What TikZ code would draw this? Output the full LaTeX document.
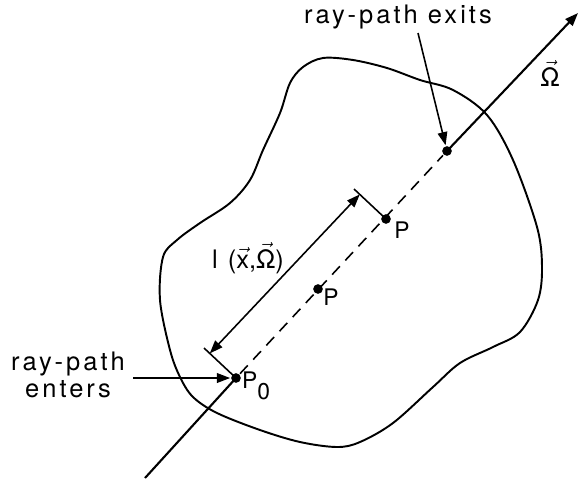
\documentclass[tikz,border=0pt]{standalone}
\usepackage{amsmath}
\usepackage{fontspec}
\setmainfont{TeX Gyre Heros}[LetterSpace=12]
\usetikzlibrary{arrows.meta,calc}

\newcommand{\vecarr}[1]{$\vec{\text{#1}}$}

\begin{document}
\begin{tikzpicture}[x=0.02cm, y=-0.02cm, line width=1.2pt,
  dot/.style={circle, fill, inner sep=0pt, minimum size=5.5pt},
  txt/.style={font=\fontsize{14.5}{15.5}\selectfont, inner sep=1pt},
  ptlabel/.style={font=\fontsize{13}{15}\selectfont, inner sep=1pt},
  note/.style={line width=0.9pt},
  tip/.style={-{Triangle[length=7.5pt,width=5.5pt]}},
  dimtip/.style={{Triangle[length=7.5pt,width=5.5pt]}-{Triangle[length=7.5pt,width=5.5pt]}}]

  \useasboundingbox (0,0) rectangle (584,478);

  %% Body outline
  \draw[line width=1.1pt] plot[smooth cycle, tension=0.55] coordinates {
    (323,58) (353,60) (387,68) (420,80) (453,90) (487,115) (513,160)
    (537,227) (542,267) (538,300) (520,332) (493,347) (460,363)
    (433,387) (393,423) (360,442) (337,447) (300,442) (260,430)
    (217,413) (193,397) (180,377) (170,350) (160,300) (163,257)
    (177,240) (200,223) (230,203) (250,180) (263,150) (280,113)
    (290,83) (303,67)};

  %% Points on the ray
  \node[dot] (P0) at (236,378) {};
  \node[dot] (Pm) at (318,289) {};
  \node[dot] (P)  at (386,219) {};
  \node[dot] (Pe) at (447,151) {};
  \coordinate (rayin)  at (145,478);
  \coordinate (rayout) at (578,13);

  %% The ray
  \draw (rayin) -- (P0.center);
  \draw[note, dash pattern=on 6.5pt off 4.5pt] (P0) -- (Pe);
  \draw[tip] (Pe.center) -- (rayout);

  %% Dimension l(x,Omega)
  \coordinate (P0x) at ($(P0)+(-32,-30)$);
  \coordinate (Px)  at ($(P)+(-32,-30)$);
  \draw[note] (P0.center) -- (P0x);
  \draw[note] (P.center) -- (Px);
  \draw[note, dimtip] ($(P0)!0.82!(P0x)$) -- ($(P)!0.82!(Px)$);

  %% Labels
  \node[txt] (len) at (248,258) {l (\vecarr{x},\vecarr{Ω})};
  \node[ptlabel] (Plab)  at (402,230) {P};
  \node[ptlabel] (Pmlab) at (331,297) {P};
  \node[ptlabel] (P0lab) at (256,386) {P\raisebox{-0.5em}{0}};
  \node[txt] (Om) at (550,73) {\vecarr{Ω}};

  %% Entry / exit notes
  \node[txt] (exits) at (398,17) {ray-path exits};
  \node[txt, align=center] (enters) at (68,375) {ray-path\\enters};
  \coordinate (exitstail)  at (418,33);
  \coordinate (enterstail) at (133,378);
  \draw[note, tip] (exitstail) -- (Pe);
  \draw[note, tip] (enterstail) -- (P0);

\end{tikzpicture}
\end{document}
